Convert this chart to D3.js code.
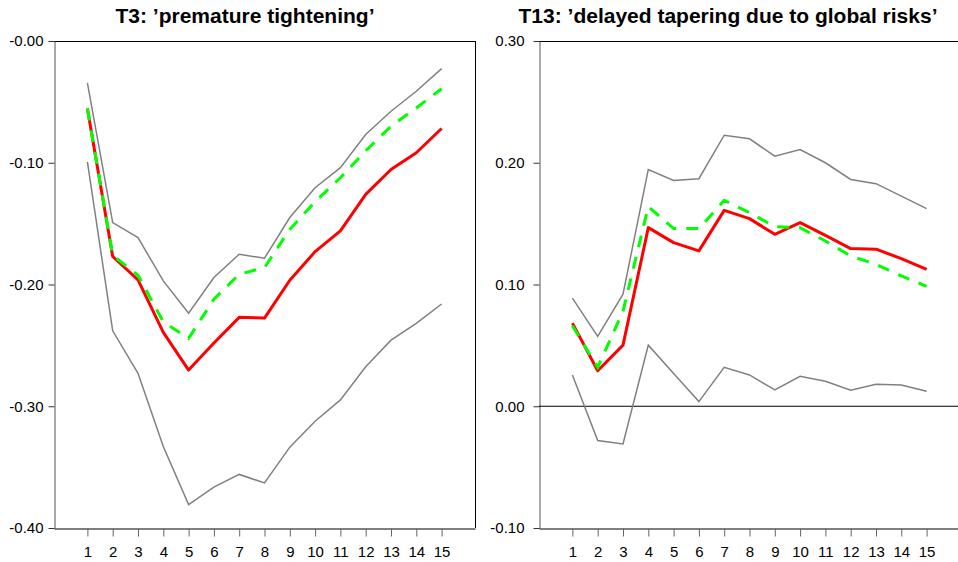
<!DOCTYPE html>
<html><head><meta charset="utf-8">
<script src="https://cdn.jsdelivr.net/npm/d3@7"></script>
<style>body{margin:0;background:#fff} svg{display:block}</style>
</head><body><svg id="c" width="958" height="562"></svg>
<script>
const steps = [1,2,3,4,5,6,7,8,9,10,11,12,13,14,15];

const t3Upper  = [-0.0344,-0.1492,-0.1615,-0.197,-0.2236,-0.1943,-0.1752,-0.1784,-0.145,-0.1205,-0.104,-0.0768,-0.0577,-0.0413,-0.0227];
const t3Lower  = [-0.0992,-0.238,-0.273,-0.333,-0.3807,-0.3664,-0.356,-0.363,-0.3336,-0.3123,-0.2948,-0.2675,-0.2457,-0.232,-0.216];
const t3Median = [-0.0555,-0.177,-0.1962,-0.2393,-0.2703,-0.248,-0.227,-0.2276,-0.1965,-0.173,-0.156,-0.126,-0.1055,-0.0918,-0.0719];
const t3Mean   = [-0.0555,-0.176,-0.1924,-0.2306,-0.2443,-0.212,-0.1916,-0.1861,-0.1547,-0.132,-0.1123,-0.0902,-0.070,-0.055,-0.0392];

const t13Upper  = [0.0888,0.0574,0.092,0.1945,0.1855,0.1869,0.2226,0.2197,0.2054,0.2109,0.2,0.1863,0.1828,0.1726,0.1623];
const t13Lower  = [0.0257,-0.0282,-0.0309,0.0502,0.027,0.0038,0.032,0.0257,0.0134,0.0246,0.0205,0.0131,0.018,0.0174,0.0123];
const t13Median = [0.0683,0.0292,0.0502,0.1467,0.1344,0.1276,0.1609,0.1541,0.1412,0.1508,0.1404,0.1295,0.129,0.1213,0.1125];
const t13Mean   = [0.0661,0.032,0.078,0.164,0.1459,0.1459,0.1691,0.159,0.1475,0.1467,0.1357,0.1234,0.1166,0.107,0.0985];

const t3Title = "T3: \u2019premature tightening\u2019";
const t13Title = "T13: \u2019delayed tapering due to global risks\u2019";
const t3YTicks = [0,-0.1,-0.2,-0.3,-0.4];
const t3YLabels = ["-0.00","-0.10","-0.20","-0.30","-0.40"];
const t13YTicks = [0.3,0.2,0.1,0,-0.1];
const t13YLabels = ["0.30","0.20","0.10","0.00","-0.10"];

const FONT = "'Liberation Sans', Arial, Helvetica, sans-serif";
const svg = d3.select("#c");

const panels = [
  {title:t3Title, upper:t3Upper, lower:t3Lower, median:t3Median, mean:t3Mean,
   yDomain:[-0.4,0], yTicks:t3YTicks, yLabels:t3YLabels,
   left:54, right:475, titleX:245, tickPad:5, zero:false, rightBorder:true},
  {title:t13Title, upper:t13Upper, lower:t13Lower, median:t13Median, mean:t13Mean,
   yDomain:[-0.1,0.3], yTicks:t13YTicks, yLabels:t13YLabels,
   left:539, right:960, titleX:728, tickPad:9, zero:true, rightBorder:false}
];

const plotTop = 41, plotBottom = 528;

panels.forEach(p => {
  const g = svg.append("g");
  const x = d3.scaleLinear().domain([-0.32, 16.32]).range([p.left, p.right]);
  const y = d3.scaleLinear().domain(p.yDomain).range([plotBottom, plotTop]);

  g.append("line").attr("x1", p.left).attr("x2", p.right).attr("y1", plotTop+0.5).attr("y2", plotTop+0.5)
    .attr("stroke", "#000").attr("stroke-width", 1);
  if (p.rightBorder) {
    g.append("line").attr("x1", p.right+0.5).attr("x2", p.right+0.5).attr("y1", plotTop).attr("y2", plotBottom)
      .attr("stroke", "#000").attr("stroke-width", 1);
  }

  const ya = g.append("g").attr("transform", `translate(${p.left+0.5},0)`)
    .call(d3.axisLeft(y).tickValues(p.yTicks).tickFormat((d,i)=>p.yLabels[i])
      .tickSize(6).tickSizeOuter(0).tickPadding(p.tickPad));
  ya.selectAll("text").attr("font-family", FONT).attr("font-size", 15).attr("fill", "#000");
  ya.select(".domain").attr("stroke", "#555");
  ya.selectAll(".tick line").attr("stroke", "#333");

  const xa = g.append("g").attr("transform", `translate(0,${plotBottom+0.5})`)
    .call(d3.axisBottom(x).tickValues(steps).tickFormat(d3.format("d"))
      .tickSize(8).tickSizeOuter(0).tickPadding(10));
  xa.selectAll("text").attr("font-family", FONT).attr("font-size", 15).attr("fill", "#000");
  xa.select(".domain").attr("stroke", "#000");
  xa.selectAll(".tick line").attr("stroke", "#666");

  if (p.zero) {
    g.append("line").attr("x1", p.left).attr("x2", p.right).attr("y1", y(0)).attr("y2", y(0))
      .attr("stroke", "#000").attr("stroke-width", 1.2);
  }

  const line = d3.line().x((d,i)=>x(steps[i])).y(d=>y(d));
  g.append("path").datum(p.upper).attr("d", line).attr("fill","none").attr("stroke","#808080").attr("stroke-width",1.5);
  g.append("path").datum(p.lower).attr("d", line).attr("fill","none").attr("stroke","#808080").attr("stroke-width",1.5);
  g.append("path").datum(p.median).attr("d", line).attr("fill","none").attr("stroke","#ff0000").attr("stroke-width",3).attr("stroke-linejoin","round");
  g.append("path").datum(p.mean).attr("d", line).attr("fill","none").attr("stroke","#00ff00").attr("stroke-width",3).attr("stroke-dasharray","12,10");

  svg.append("text").attr("x", p.titleX).attr("y", 23).attr("text-anchor","middle")
    .attr("font-family", FONT).attr("font-weight","bold").attr("font-size", 21).attr("fill","#000")
    .text(p.title);
});
</script>
</body></html>
